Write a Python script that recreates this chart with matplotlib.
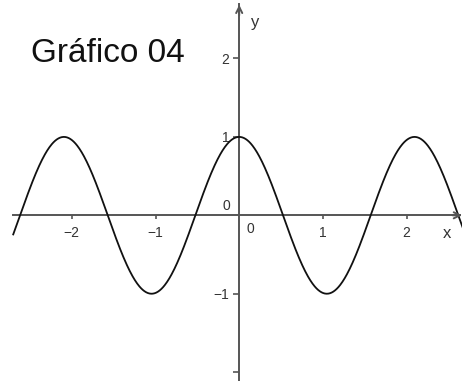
import numpy as np
import matplotlib.pyplot as plt

plt.rcParams['font.family'] = ['Liberation Sans', 'DejaVu Sans']

# y = a * cos(k * x)
amplitude = 1.0
frequency = 3.0
x_start, x_end = -2.70, 2.70

x_ticks = [-2, -1, 1, 2]
x_tick_labels = ['−2', '−1', '1', '2']
y_ticks = [-2, -1, 1, 2]
y_tick_labels = ['', '−1', '1', '2']

axis_color = '#555555'
text_color = '#333333'

fig = plt.figure(figsize=(4.62, 3.81), dpi=100)
ax = fig.add_axes([0, 0, 1, 1])
ax.set_xlim(-2.858, 2.662)
ax.set_ylim(-2.113, 2.746)

xs = np.linspace(x_start, x_end, 800)
ys = amplitude * np.cos(frequency * xs)
ax.plot(xs, ys, color='#111111', lw=1.3, zorder=3)

# axes through the origin
for side in ['top', 'right']:
    ax.spines[side].set_visible(False)
ax.spines['left'].set_position('zero')
ax.spines['bottom'].set_position('zero')
ax.spines['bottom'].set_bounds(x_start, 2.64)
ax.spines['left'].set_bounds(-2.113, 2.70)
for side in ['left', 'bottom']:
    ax.spines[side].set_color(axis_color)
    ax.spines[side].set_linewidth(1.4)

ax.annotate('', xy=(2.662, 0), xytext=(2.55, 0),
            arrowprops=dict(arrowstyle='->', color=axis_color, lw=1.4,
                            mutation_scale=11, shrinkA=0, shrinkB=0))
ax.annotate('', xy=(0, 2.685), xytext=(0, 2.55),
            arrowprops=dict(arrowstyle='->', color=axis_color, lw=1.4,
                            mutation_scale=11, shrinkA=0, shrinkB=0))

ax.set_xticks(x_ticks)
ax.set_xticklabels(x_tick_labels)
ax.set_yticks(y_ticks)
ax.set_yticklabels(y_tick_labels)
ax.tick_params(axis='x', direction='out', length=3, width=1.2, color=axis_color,
               labelsize=10, labelcolor=text_color, pad=5)
ax.tick_params(axis='y', direction='out', length=4, width=1.2, color=axis_color,
               labelsize=10, labelcolor=text_color, pad=3)

# origin labels for both axes
ax.annotate('0', xy=(0, 0), xytext=(-13, 9), textcoords='offset pixels',
            ha='center', va='center', fontsize=10, color=text_color)
ax.annotate('0', xy=(0, 0), xytext=(11, -14), textcoords='offset pixels',
            ha='center', va='center', fontsize=10, color=text_color)

ax.text(2.483, -0.226, 'x', ha='center', va='center', fontsize=12, color=text_color)
ax.text(0.189, 2.453, 'y', ha='center', va='center', fontsize=12, color=text_color)

fig.text(30.7 / 462, 1 - 61.7 / 381, 'Gráfico 04', fontsize=24,
         ha='left', va='baseline', color='#111111')

fig.savefig('out.png', dpi=100)
